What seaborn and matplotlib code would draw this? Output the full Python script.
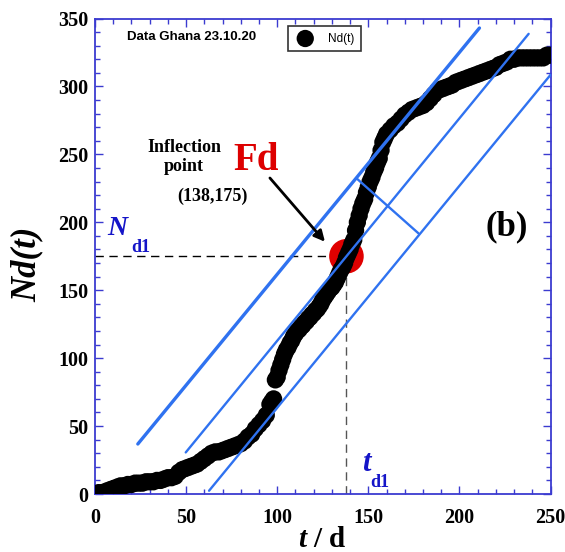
import matplotlib
matplotlib.use("Agg")
import matplotlib.pyplot as plt
from matplotlib.ticker import MultipleLocator
import pandas as pd
import seaborn as sns

# Cumulative deaths in Ghana (data up to 23.10.20).
# Every second day in the flat parts, daily through the steep rise.
days_early = list(range(0, 96, 2))
deaths_early = [
    0, 1, 1, 2, 3, 4, 5, 6, 6, 7,
    7, 8, 8, 8, 9, 9, 9, 10, 10, 11,
    12, 12, 13, 16, 18, 19, 20, 21, 22, 24,
    26, 28, 30, 31, 31, 32, 33, 34, 35, 36,
    37, 39, 42, 44, 48, 51, 54, 58,
]
days_rise = list(range(96, 161))
deaths_rise = [
    66, 68, 70, 84, 86, 91, 95, 99, 103, 106,
    108, 111, 113, 116, 118, 120, 121, 123, 124, 126,
    127, 129, 130, 132, 133, 135, 136, 138, 140, 143,
    145, 147, 149, 151, 152, 154, 156, 159, 162, 165,
    167, 170, 174, 177, 180, 184, 187, 194, 200, 205,
    210, 214, 217, 222, 226, 230, 233, 237, 240, 244,
    247, 253, 259, 262, 265,
]
days_late = list(range(162, 251, 2))
deaths_late = [
    268, 271, 273, 276, 279, 281, 283, 284, 285, 286,
    288, 291, 294, 297, 298, 299, 300, 301, 303, 304,
    305, 306, 307, 308, 309, 310, 311, 312, 313, 314,
    316, 317, 318, 320, 320, 321, 321, 321, 321, 321,
    321, 321, 321, 323, 323,
]

# Inflection point
t_inflect = 138
n_inflect = 175

# Parallel guide lines (start/end points in data units)
upper_x = [23.5, 211.0]
upper_y = [36.8, 343.0]
middle_x = [49.8, 238.0]
middle_y = [30.6, 338.7]
lower_x = [62.6, 250.0]
lower_y = [2.4, 308.5]
# Width marker between the outer lines
perp_x = [144.0, 177.5]
perp_y = [231.8, 191.9]

x_ticks = [0, 50, 100, 150, 200, 250]
y_ticks = [0, 50, 100, 150, 200, 250, 300, 350]

sns.set_theme(style="white")
plt.rcParams["font.family"] = ["Liberation Serif", "DejaVu Serif"]
plt.rcParams["text.color"] = "black"
plt.rcParams["axes.labelcolor"] = "black"
plt.rcParams["mathtext.fontset"] = "custom"
plt.rcParams["mathtext.it"] = "Liberation Serif:italic:bold"
plt.rcParams["mathtext.rm"] = "Liberation Serif:bold"
plt.rcParams["mathtext.bf"] = "Liberation Serif:bold"

AXIS_BLUE = "#3b3bd0"
LINE_BLUE = "#2f72f0"
LABEL_BLUE = "#1515c8"

fig = plt.figure(figsize=(5.65, 5.52), dpi=100)
ax = fig.add_axes([95 / 565, 58 / 552, 455.5 / 565, 475.5 / 552])

df = pd.DataFrame({
    "t": days_early + days_rise + days_late,
    "Nd": deaths_early + deaths_rise + deaths_late,
})

# Inflection marker sits beneath the data points
ax.scatter([t_inflect], [n_inflect], s=620, color="#e00000", edgecolor="none", zorder=2)

sns.scatterplot(data=df, x="t", y="Nd", ax=ax, color="black", s=155,
                edgecolor="none", linewidth=0, label="Nd(t)", zorder=3)

# Reference dashed lines through the inflection point
ax.plot([0, t_inflect], [n_inflect, n_inflect], color="black", lw=1.0,
        dashes=(6, 4), zorder=1)
ax.plot([t_inflect, t_inflect], [0, n_inflect], color="#555555", lw=1.0,
        dashes=(6, 4), zorder=1)

# Guide lines drawn over the data
sns.lineplot(x=upper_x, y=upper_y, ax=ax, color=LINE_BLUE, lw=2.4, zorder=4)
sns.lineplot(x=middle_x, y=middle_y, ax=ax, color=LINE_BLUE, lw=1.7, zorder=4)
sns.lineplot(x=lower_x, y=lower_y, ax=ax, color=LINE_BLUE, lw=1.7, zorder=4)
sns.lineplot(x=perp_x, y=perp_y, ax=ax, color=LINE_BLUE, lw=1.7, zorder=4)

ax.set_xlim(0, 250)
ax.set_ylim(0, 350)
ax.set_xticks(x_ticks)
ax.set_yticks(y_ticks)
ax.xaxis.set_minor_locator(MultipleLocator(10))
ax.yaxis.set_minor_locator(MultipleLocator(10))
ax.tick_params(which="both", direction="in", top=True, right=True,
               bottom=True, left=True, color=AXIS_BLUE, width=1.0)
ax.tick_params(which="major", length=6)
ax.tick_params(which="minor", length=3.5)
ax.tick_params(axis="x", which="major", pad=10)
ax.tick_params(axis="y", which="major", pad=5)
for lbl in ax.get_xticklabels() + ax.get_yticklabels():
    lbl.set_fontweight("bold")
    lbl.set_fontsize(14.5)
    lbl.set_color("black")
for sp in ax.spines.values():
    sp.set_color(AXIS_BLUE)
    sp.set_linewidth(1.3)

ax.set_xlabel(r"$t$ / d", fontsize=21, fontweight="bold")
ax.xaxis.set_label_coords(0.498, -0.068)
ax.set_ylabel("Nd(t)", fontsize=25, fontweight="bold", fontstyle="italic")
ax.yaxis.set_label_coords(-0.112, 0.482)

leg = ax.legend(loc="upper left", bbox_to_anchor=(0.424, 0.984), borderaxespad=0,
                frameon=True, fancybox=False, markerscale=1.0,
                prop={"family": "Liberation Sans", "size": 8.5},
                handletextpad=1.0, borderpad=0.55, handlelength=1.8)
leg.get_frame().set_edgecolor("black")
leg.get_frame().set_linewidth(1.2)

ax.text(53.1, 336.6, "Data Ghana 23.10.20", ha="center", va="center",
        family="Liberation Sans", fontweight="bold", fontsize=9.5)
ax.text(48.8, 255.4, "Inflection", ha="center", va="center",
        fontweight="bold", fontsize=13)
ax.text(48.5, 240.7, "point", ha="center", va="center",
        fontweight="bold", fontsize=13)
ax.text(64.2, 219.3, f"({t_inflect},{n_inflect})", ha="center", va="center",
        fontweight="bold", fontsize=13)
ax.text(88.6, 245.8, "Fd", ha="center", va="center", color="#dd0000",
        fontweight="bold", fontsize=28)
ax.text(226.1, 196.5, "(b)", ha="center", va="center",
        fontweight="bold", fontsize=25)

ax.text(6.6, 190.6, "N", ha="left", va="baseline", color=LABEL_BLUE,
        fontweight="bold", fontstyle="italic", fontsize=20)
ax.text(19.8, 178.1, "d1", ha="left", va="baseline", color=LABEL_BLUE,
        fontweight="bold", fontsize=13)
ax.text(146.5, 16.9, "t", ha="left", va="baseline", color=LABEL_BLUE,
        fontweight="bold", fontstyle="italic", fontsize=22)
ax.text(150.9, 5.4, "d1", ha="left", va="baseline", color=LABEL_BLUE,
        fontweight="bold", fontsize=13)

ax.annotate("", xy=(126.2, 185.7), xytext=(96.0, 232.6),
            arrowprops=dict(arrowstyle="-|>", color="black", lw=2.0,
                            mutation_scale=16, shrinkA=0, shrinkB=0),
            zorder=5)

fig.savefig("out.png", dpi=100)
